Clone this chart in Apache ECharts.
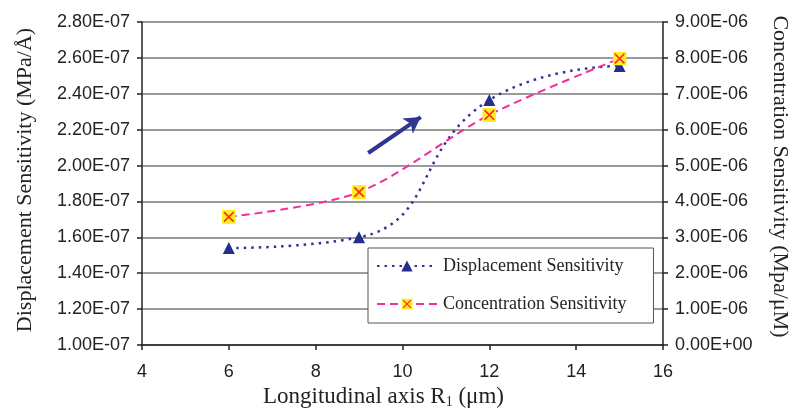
<!DOCTYPE html>
<html>
<head>
<meta charset="utf-8">
<script src="https://cdn.jsdelivr.net/npm/echarts@6/dist/echarts.min.js"></script>
<style>
  html, body { margin: 0; padding: 0; background: #fff; }
  #chart { width: 793px; height: 411px; }
</style>
</head>
<body>
<div id="chart"></div>
<script>
// Longitudinal axis positions R1 (µm)
const radii = [6, 9, 12, 15];
// Displacement sensitivity (MPa/Å), left axis
const displacement = [1.54e-7, 1.60e-7, 2.365e-7, 2.555e-7];
// Concentration sensitivity (Mpa/µM), right axis
const concentration = [3.57e-6, 4.26e-6, 6.41e-6, 7.98e-6];
// Trend arrow endpoints [R1, displacement]
const trendArrow = [[9.21, 2.07e-7], [10.42, 2.27e-7]];

const serif = '"Liberation Serif", "Times New Roman", serif';
const sans = '"Liberation Sans", Arial, sans-serif';

function sci(v) {
  let s = Number(v).toExponential(2).toUpperCase();
  return s.replace(/E([+-])(\d)$/, 'E$10$2');
}

// yellow square with a red cross, used as the concentration marker
const crossIcon = 'image://data:image/svg+xml;utf8,' + encodeURIComponent(
  '<svg xmlns="http://www.w3.org/2000/svg" width="14" height="14" viewBox="0 0 14 14">' +
  '<rect x="0" y="0" width="14" height="14" fill="#ffee22"/>' +
  '<path d="M2.2 2.2 L11.8 11.8 M11.8 2.2 L2.2 11.8" stroke="#ff2a1a" stroke-width="1.6"/>' +
  '</svg>');

const chart = echarts.init(document.getElementById('chart'), null, { renderer: 'canvas' });

chart.setOption({
  animation: false,
  backgroundColor: '#fff',
  grid: { left: 142, right: 130, top: 22, bottom: 66, containLabel: false, outerBoundsMode: 'none' },
  legend: {
    orient: 'vertical',
    left: 368,
    top: 248,
    padding: [9, 27, 10, 8],
    itemGap: 20,
    itemWidth: 60,
    itemHeight: 14,
    backgroundColor: '#fff',
    borderColor: '#555',
    borderWidth: 1,
    textStyle: { fontFamily: serif, fontSize: 18, color: '#222', padding: [0, 0, 0, 1] },
    data: ['Displacement Sensitivity', 'Concentration Sensitivity']
  },
  xAxis: {
    type: 'value',
    min: 4, max: 16, interval: 2,
    name: '{t|Longitudinal axis R}{s|1}{t| (μm)}',
    nameLocation: 'middle',
    nameGap: 35,
    nameTextStyle: {
      padding: [0, 38, 0, 0],
      rich: {
        t: { fontFamily: serif, fontSize: 23, color: '#222' },
        s: { fontFamily: serif, fontSize: 14, color: '#222', verticalAlign: 'bottom', padding: [10, 0, 0, 0] }
      }
    },
    axisLine: { lineStyle: { color: '#222', width: 1.5 } },
    axisTick: { show: true, length: 5, lineStyle: { color: '#222', width: 1.5 } },
    axisLabel: { fontFamily: sans, fontSize: 18, color: '#222', margin: 18 },
    splitLine: { show: false }
  },
  yAxis: [
    {
      type: 'value',
      min: 1.0e-7, max: 2.8e-7, interval: 2e-8,
      name: 'Displacement Sensitivity (MPa/Å)',
      nameLocation: 'middle',
      nameGap: 106,
      nameTextStyle: { fontFamily: serif, fontSize: 22, color: '#222', padding: [0, 0, 0, 7] },
      axisLine: { show: true, lineStyle: { color: '#222', width: 1.5 } },
      axisTick: { show: true, length: 5, lineStyle: { color: '#222', width: 1.5 } },
      axisLabel: { fontFamily: sans, fontSize: 18, color: '#222', margin: 12, formatter: sci },
      splitLine: { show: true, lineStyle: { color: '#7a7a7a', width: 1.5 } }
    },
    {
      type: 'value',
      min: 0, max: 9e-6, interval: 1e-6,
      position: 'right',
      name: 'Concentration Sensitivity (Mpa/μM)',
      nameLocation: 'middle',
      nameGap: 106,
      nameRotate: -90,
      nameTextStyle: { fontFamily: serif, fontSize: 22, color: '#222', padding: [0, 14, 0, 0] },
      axisLine: { show: true, lineStyle: { color: '#222', width: 1.5 } },
      axisTick: { show: true, length: 5, lineStyle: { color: '#222', width: 1.5 } },
      axisLabel: { fontFamily: sans, fontSize: 18, color: '#222', margin: 12, formatter: sci },
      splitLine: { show: false }
    }
  ],
  series: [
    {
      name: 'Displacement Sensitivity',
      type: 'line',
      yAxisIndex: 0,
      smooth: 0.5,
      data: radii.map((r, i) => [r, displacement[i]]),
      symbol: 'triangle',
      symbolSize: 12,
      itemStyle: { color: '#262d8c' },
      lineStyle: { color: '#2e3592', width: 2.5, type: [2.5, 5] },
      z: 3,
      markLine: {
        silent: true,
        symbol: ['none', 'arrow'],
        symbolSize: [14, 16],
        label: { show: false },
        lineStyle: { color: '#2e3592', width: 4, type: 'solid' },
        data: [[{ coord: trendArrow[0] }, { coord: trendArrow[1] }]]
      }
    },
    {
      name: 'Concentration Sensitivity',
      type: 'line',
      yAxisIndex: 1,
      smooth: 0.3,
      data: radii.map((r, i) => [r, concentration[i]]),
      symbol: crossIcon,
      symbolSize: 14,
      itemStyle: { color: '#f0309a' },
      lineStyle: { color: '#f0309a', width: 2, type: [8, 5] },
      z: 4
    }
  ]
});
</script>
</body>
</html>
